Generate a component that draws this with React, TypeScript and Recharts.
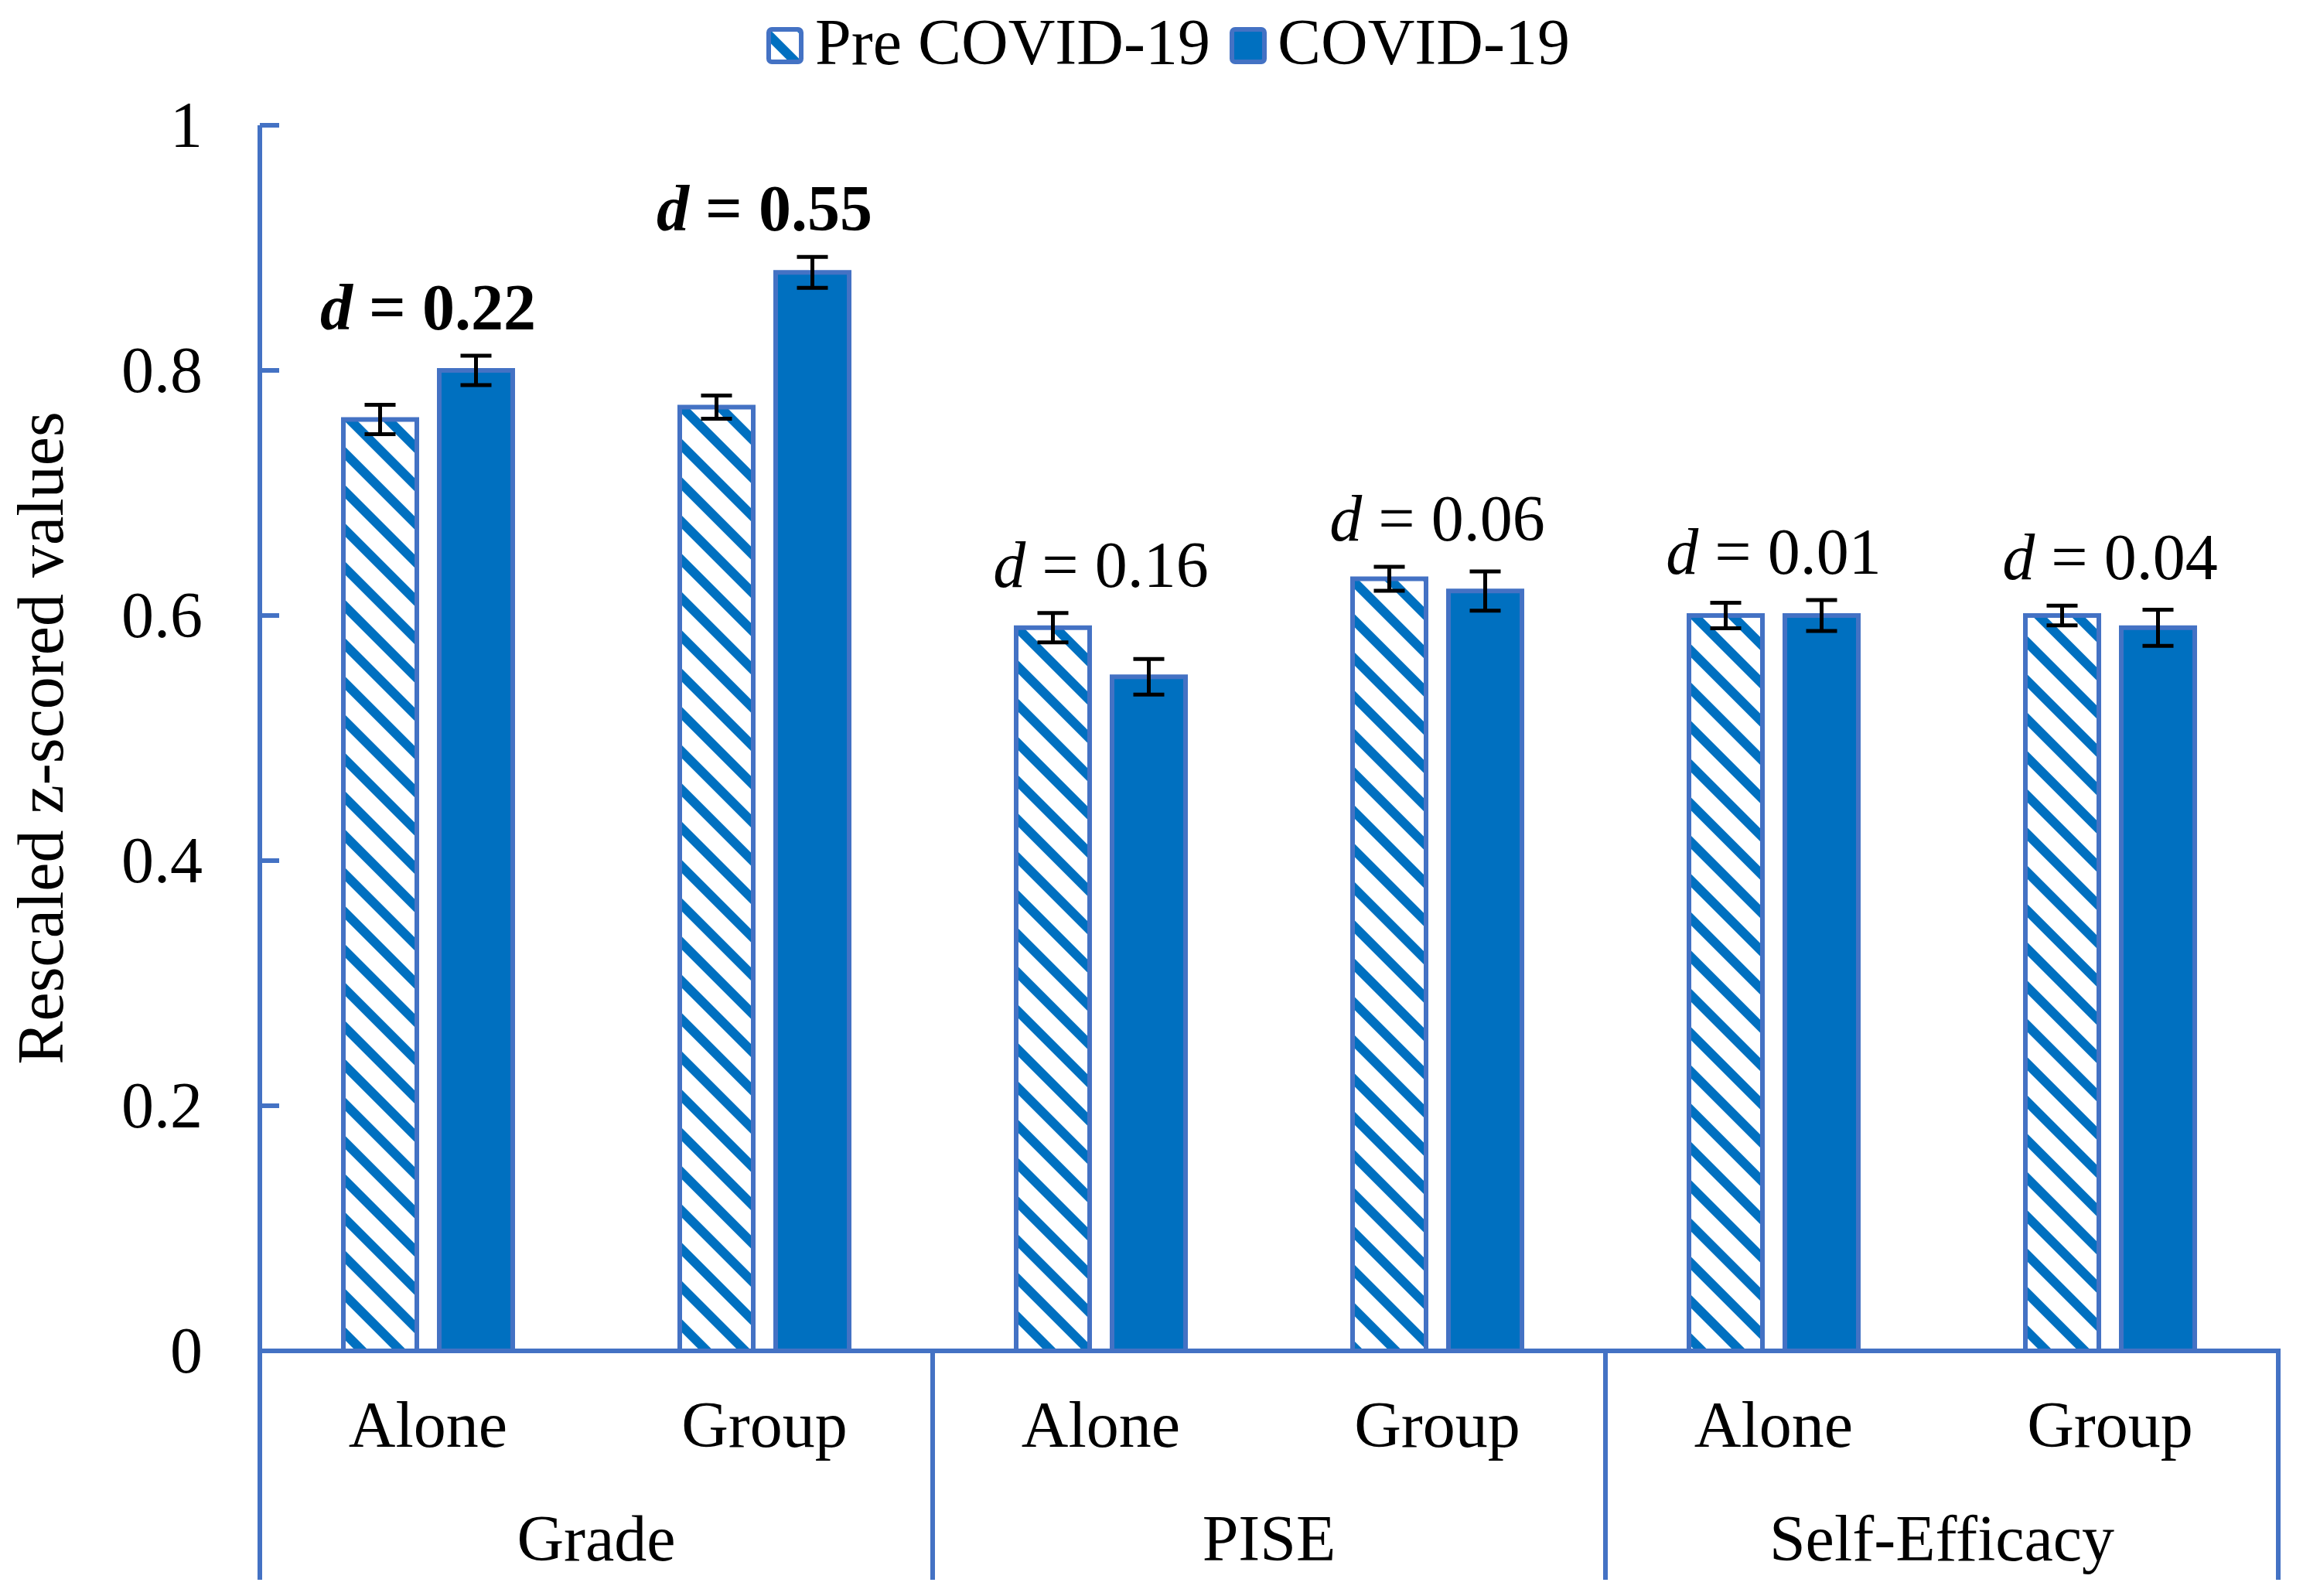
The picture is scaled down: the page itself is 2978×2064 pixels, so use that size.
import React from "react";
import { BarChart, Bar, XAxis, YAxis, ErrorBar, LabelList } from "recharts";

// measures and the two study settings under each
const measures = ["Grade", "PISE", "Self-Efficacy"];
const settings = ["Alone", "Group", "Alone", "Group", "Alone", "Group"];

const preCovid = [0.76, 0.77, 0.59, 0.63, 0.6, 0.6];
const covid = [0.8, 0.88, 0.55, 0.62, 0.6, 0.59];
const preCovidErr = [0.012, 0.0095, 0.012, 0.0098, 0.0104, 0.008];
const covidErr = [0.012, 0.0126, 0.0145, 0.016, 0.0126, 0.0148];

// Cohen's d per pair, bold when significant
const effectSize = ["0.22", "0.55", "0.16", "0.06", "0.01", "0.04"];
const effectSignificant = [true, true, false, false, false, false];

const yTicks = [0, 0.2, 0.4, 0.6, 0.8, 1];

const data = settings.map((s, i) => ({
    key: measures[Math.floor(i / 2)] + "-" + s,
    pre: preCovid[i],
    covid: covid[i],
    preErr: preCovidErr[i],
    covidErr: covidErr[i],
    effect: effectSize[i],
}));

const W = 2978;
const H = 2064;
const LEFT = 336;
const RIGHT = 32;
const TOP = 162;
const XAXIS_H = 317;
const BAND = (W - LEFT - RIGHT) / settings.length;
const BAR_SIZE = 95;
const BAR_GAP = 29;

const AXIS = "#4472C4";
const BLUE = "#0070C0";
const FONT = '"Liberation Serif", "Times New Roman", serif';
const FS = 84;

const YTick = (props: any) => {
    const { x, y, payload } = props;
    return (
        <g>
            <line x1={x} x2={x + 25} y1={y} y2={y} stroke={AXIS} strokeWidth={6} />
            <text x={x - 74} y={y + 28} textAnchor="end" fontFamily={FONT} fontSize={FS} fill="#000">
                {String(payload.value)}
            </text>
        </g>
    );
};

const XTick = (props: any) => {
    const { x, y, index } = props;
    const half = BAND / 2;
    return (
        <g>
            <text x={x} y={y + 124} textAnchor="middle" fontFamily={FONT} fontSize={FS} fill="#000">
                {settings[index]}
            </text>
            {index % 2 === 0 && (
                <>
                    <text x={x + half} y={y + 271} textAnchor="middle" fontFamily={FONT} fontSize={FS} fill="#000">
                        {measures[index / 2]}
                    </text>
                    <line x1={x - half} x2={x - half} y1={y - 3} y2={y + 296} stroke={AXIS} strokeWidth={6} />
                </>
            )}
            {index === settings.length - 1 && (
                <line x1={x + half} x2={x + half} y1={y - 3} y2={y + 296} stroke={AXIS} strokeWidth={6} />
            )}
        </g>
    );
};

const YLabel = (props: any) => {
    const vb = props.viewBox || {};
    const cy = (vb.y || TOP) + (vb.height || 0) / 2;
    return (
        <text
            x={81}
            y={cy}
            transform={`rotate(-90, 81, ${cy})`}
            textAnchor="middle"
            fontFamily={FONT}
            fontSize={FS}
            fill="#000"
        >
            Rescaled z-scored values
        </text>
    );
};

// placed above the taller error bar of each pair, using the bar's own scale
const EffectLabel = (props: any) => {
    const { x, y, width, height, index, value } = props;
    if (index == null || !height) return null;
    const k = height / covid[index];
    const base = y + height;
    const covTop = y - covidErr[index] * k;
    const preTop = base - (preCovid[index] + preCovidErr[index]) * k;
    const top = Math.min(covTop, preTop);
    const cx = x + width / 2 - (BAR_SIZE + BAR_GAP) / 2;
    const bold = effectSignificant[index];
    return (
        <text
            x={cx}
            y={top - 34}
            textAnchor="middle"
            fontFamily={FONT}
            fontSize={FS}
            fontWeight={bold ? "bold" : "normal"}
            fill="#000"
            style={{ whiteSpace: "pre" }}
        >
            <tspan fontStyle="italic">d</tspan>
            <tspan>{" = " + value}</tspan>
        </text>
    );
};

const Hatch = ({ id }: { id: string }) => (
    <pattern id={id} patternUnits="userSpaceOnUse" width={35} height={35} patternTransform="rotate(-45)">
        <rect width={35} height={35} fill="#fff" />
        <rect width={12} height={35} fill={BLUE} />
    </pattern>
);

const Legend = () => (
    <svg width={W} height={120} style={{ position: "absolute", left: 0, top: 0 }}>
        <defs>
            <Hatch id="hatchLegend" />
        </defs>
        <rect x={994} y={38} width={42} height={42} rx={4} fill="url(#hatchLegend)" stroke={AXIS} strokeWidth={6} />
        <text x={1054} y={83} fontFamily={FONT} fontSize={FS} fill="#000">
            Pre COVID-19
        </text>
        <rect x={1593} y={38} width={42} height={42} rx={4} fill={BLUE} stroke={AXIS} strokeWidth={6} />
        <text x={1652} y={83} fontFamily={FONT} fontSize={FS} fill="#000">
            COVID-19
        </text>
    </svg>
);

const App = () => {
    return (
        <div style={{ position: "absolute", left: 0, top: 0, width: W, height: H, background: "#fff" }}>
            <BarChart
                width={W}
                height={H}
                data={data}
                margin={{ top: TOP, right: RIGHT, left: 0, bottom: 0 }}
                barSize={BAR_SIZE}
                barGap={BAR_GAP}
            >
                <defs>
                    <Hatch id="hatch" />
                </defs>
                <XAxis
                    dataKey="key"
                    height={XAXIS_H}
                    interval={0}
                    tickSize={0}
                    tickMargin={0}
                    tickLine={false}
                    axisLine={{ stroke: AXIS, strokeWidth: 6 }}
                    tick={<XTick />}
                />
                <YAxis
                    width={LEFT}
                    domain={[0, 1]}
                    ticks={yTicks}
                    interval={0}
                    tickSize={0}
                    tickMargin={0}
                    tickLine={false}
                    axisLine={{ stroke: AXIS, strokeWidth: 6 }}
                    tick={<YTick />}
                    label={<YLabel />}
                />
                <Bar dataKey="pre" fill="url(#hatch)" stroke={AXIS} strokeWidth={6} isAnimationActive={false}>
                    <ErrorBar dataKey="preErr" width={20} stroke="#000" strokeWidth={5} direction="y" />
                </Bar>
                <Bar dataKey="covid" fill={BLUE} stroke={AXIS} strokeWidth={6} isAnimationActive={false}>
                    <ErrorBar dataKey="covidErr" width={20} stroke="#000" strokeWidth={5} direction="y" />
                    <LabelList dataKey="effect" content={<EffectLabel />} />
                </Bar>
            </BarChart>
            <Legend />
        </div>
    );
};

export default App;
